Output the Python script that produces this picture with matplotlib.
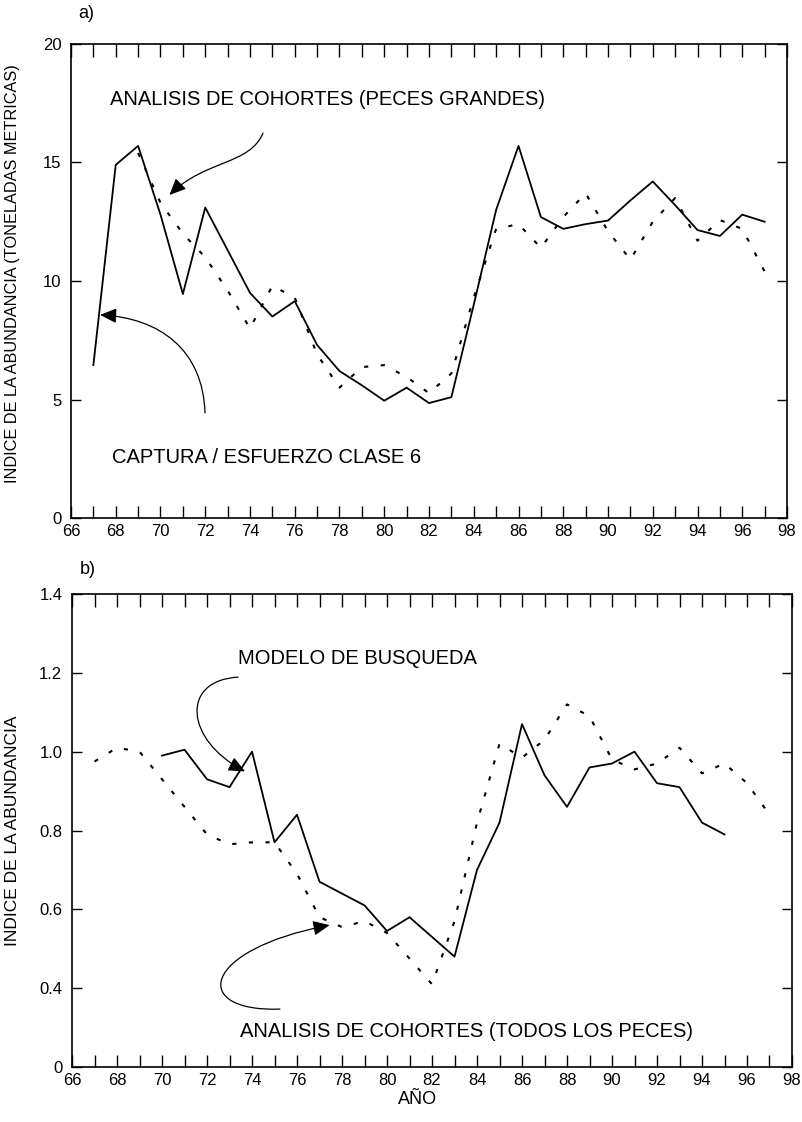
import numpy as np
import matplotlib.pyplot as plt
from matplotlib.patches import FancyArrowPatch
from matplotlib.path import Path

plt.rcParams['font.family'] = ['Liberation Sans', 'DejaVu Sans']

# Panel a) - catch per unit effort (class 6) and cohort analysis (large fish)
years_cpue = np.arange(67, 98)
cpue_clase6 = [6.45, 14.9, 15.7, 12.8, 9.45, 13.1, 11.3, 9.5, 8.5, 9.15, 7.3,
               6.2, 5.6, 4.95, 5.5, 4.85, 5.1, 9.0, 13.0, 15.7, 12.7, 12.2,
               12.4, 12.55, 13.4, 14.2, 13.2, 12.15, 11.9, 12.8, 12.5]
years_coh_a = np.arange(69, 98)
cohortes_grandes = [15.4, 13.3, 12.0, 11.0, 9.6, 8.0, 9.8, 9.3, 6.9, 5.5, 6.37,
                    6.45, 5.95, 5.27, 6.1, 9.3, 12.2, 12.4, 11.4, 12.7, 13.7,
                    12.1, 10.9, 12.5, 13.5, 11.7, 12.57, 12.2, 10.4]

# Panel b) - search model and cohort analysis (all fish)
years_busqueda = np.arange(70, 96)
modelo_busqueda = [0.99, 1.005, 0.93, 0.91, 1.0, 0.77, 0.84, 0.67, 0.64, 0.61,
                   0.545, 0.58, 0.53, 0.48, 0.70, 0.82, 1.07, 0.94, 0.86, 0.96,
                   0.97, 1.0, 0.92, 0.91, 0.82, 0.79]
years_coh_b = np.arange(67, 98)
cohortes_todos = [0.975, 1.01, 1.0, 0.93, 0.86, 0.79, 0.765, 0.77, 0.77, 0.69,
                  0.58, 0.555, 0.57, 0.54, 0.475, 0.41, 0.57, 0.82, 1.02, 0.985,
                  1.03, 1.12, 1.09, 0.98, 0.955, 0.97, 1.01, 0.945, 0.97, 0.92,
                  0.84]

x_labels = [str(y) for y in range(66, 99, 2)]
yticks_a = [0, 5, 10, 15, 20]
yticks_b = [0.2, 0.4, 0.6, 0.8, 1.0, 1.2, 1.4]
ylabels_b = ['0', '0.4', '0.6', '0.8', '1.0', '1.2', '1.4']

dotted = (0, (2, 6))

fig = plt.figure(figsize=(8.03, 11.22), dpi=100)
ax1 = fig.add_axes([0.0884, 0.5383, 0.8917, 0.4225])
ax2 = fig.add_axes([0.0897, 0.0490, 0.8966, 0.4216])


def style_axes(ax):
    ax.set_xlim(66, 98)
    ax.set_xticks(range(66, 99, 2))
    ax.set_xticklabels(x_labels)
    ax.set_xticks(range(67, 98, 2), minor=True)
    ax.tick_params(axis='x', which='both', direction='in', length=9, width=1,
                   top=True, labelsize=12, pad=4)
    ax.tick_params(axis='y', direction='in', length=7, width=1, right=True,
                   labelsize=12, pad=7)
    for s in ax.spines.values():
        s.set_linewidth(1.2)


def curved_arrow(ax, pts):
    # cubic bezier from tail to head, filled head at the end
    path = Path(pts, [Path.MOVETO, Path.CURVE4, Path.CURVE4, Path.CURVE4])
    arr = FancyArrowPatch(path=path, arrowstyle='-|>,head_length=1.0,head_width=0.45',
                          mutation_scale=10, color='black', lw=0.9)
    ax.add_patch(arr)


# ---- a) ----
ax1.plot(years_cpue, cpue_clase6, color='black', lw=1.3)
ax1.plot(years_coh_a, cohortes_grandes, color='black', lw=1.5, linestyle=dotted)
style_axes(ax1)
ax1.set_ylim(0, 20)
ax1.set_yticks(yticks_a)
ax1.set_ylabel('INDICE DE LA ABUNDANCIA (TONELADAS METRICAS)', fontsize=11.7)
ax1.yaxis.set_label_coords(-0.071, 0.515)
ax1.text(67.74, 17.64, 'ANALISIS DE COHORTES (PECES GRANDES)', fontsize=14.5, va='center')
ax1.text(67.83, 2.57, 'CAPTURA / ESFUERZO CLASE 6', fontsize=14.5, va='center')
curved_arrow(ax1, [(74.58, 16.24), (74.0, 14.9), (71.99, 15.11), (70.4, 13.63)])
curved_arrow(ax1, [(71.99, 4.43), (71.9, 7.09), (69.98, 8.44), (67.3, 8.57)])

# ---- b) ----
ax2.plot(years_busqueda, modelo_busqueda, color='black', lw=1.3)
ax2.plot(years_coh_b, cohortes_todos, color='black', lw=1.5, linestyle=dotted)
style_axes(ax2)
ax2.set_ylim(0.2, 1.4)
ax2.set_yticks(yticks_b)
ax2.set_yticklabels(ylabels_b)
ax2.set_ylabel('INDICE DE LA ABUNDANCIA', fontsize=12.5)
ax2.yaxis.set_label_coords(-0.072, 0.50)
ax2.text(73.38, 1.237, 'MODELO DE BUSQUEDA', fontsize=14.5, va='center')
ax2.text(73.47, 0.289, 'ANALISIS DE COHORTES (TODOS LOS PECES)', fontsize=14.5, va='center')
curved_arrow(ax2, [(73.38, 1.189), (70.8, 1.181), (71.02, 1.029), (73.69, 0.95)])
curved_arrow(ax2, [(75.24, 0.347), (71.24, 0.339), (71.69, 0.497), (77.45, 0.56)])

fig.text(418 / 803, 1 - 1100 / 1122, 'AÑO', fontsize=13, ha='center', va='center')
fig.text(78 / 803, 1 - 14 / 1122, 'a)', fontsize=13, va='center')
fig.text(80 / 803, 1 - 569 / 1122, 'b)', fontsize=13, va='center')

plt.savefig('out.png', dpi=100, facecolor='white')
